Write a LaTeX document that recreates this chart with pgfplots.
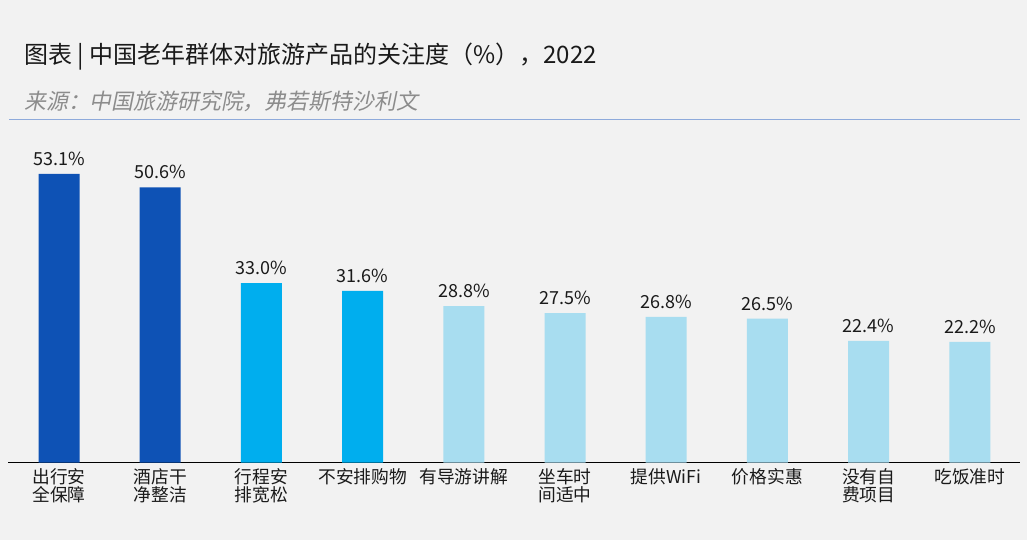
\documentclass[border=0pt]{standalone}
\usepackage{pgfplots}
\pgfplotsset{compat=1.18}
\usepackage{fontspec}
\setmainfont{Noto Sans CJK SC}
\newfontfamily\subfont[FakeSlant=0.2]{Noto Sans CJK SC}
\definecolor{bg}{HTML}{F2F2F2}
\definecolor{subgrey}{HTML}{8C8C8C}
\definecolor{linecol}{HTML}{8EAADB}
\definecolor{dblue}{HTML}{0E52B5}
\definecolor{cyanb}{HTML}{00AEEE}
\definecolor{lblue}{HTML}{A8DDF0}
\definecolor{txt}{HTML}{1A1A1A}
\begin{document}
\begin{tikzpicture}[x=0.75pt,y=0.75pt]
\useasboundingbox (0,0) rectangle (1027,540);
\fill[bg] (0,0) rectangle (1027,540);
\node[anchor=west,inner sep=0pt,text=txt,font=\fontsize{18}{21}\selectfont] at (24,483) {图表 | 中国老年群体对旅游产品的关注度（\%），2022};
\node[anchor=west,inner sep=0pt,text=subgrey,font=\subfont\fontsize{16.4}{19}\selectfont] at (24,439) {来源：中国旅游研究院，弗若斯特沙利文};
\draw[linecol,line width=1.2pt] (9,420.5) -- (1020,420.5);
\begin{axis}[
  at={(6.3pt,58pt)}, anchor=south west,
  scale only axis, width=759pt, height=244.8pt,
  xmin=-0.5, xmax=9.5, ymin=0, ymax=60,
  axis x line*=bottom, axis y line=none,
  x axis line style={line width=1.1pt, black},
  ybar, bar width=30.75pt, bar shift=0pt,
  clip=false,
  xtick={0,...,9},
  xticklabels={{出行安\\全保障},{酒店干\\净整洁},{行程安\\排宽松},{不安排购物},{有导游讲解},{坐车时\\间适中},{提供WiFi},{价格实惠},{没有自\\费项目},{吃饭准时}},
  xticklabel style={align=center, text=txt, font=\fontsize{13.3}{13.8}\selectfont, inner sep=0pt, yshift=-4pt},
  major tick length=0pt,
  ytick=\empty,
  /pgf/number format/assume math mode=true,
  nodes near coords={\pgfmathprintnumber[fixed,zerofill,precision=1]{\pgfplotspointmeta}\%},
  nodes near coords style={text=txt, font=\fontsize{13.5}{14}\selectfont, inner sep=0pt, anchor=south, yshift=6pt},
]
\addplot[fill=dblue, draw=none] coordinates {(0,53.1) (1,50.6)};
\addplot[fill=cyanb, draw=none] coordinates {(2,33.0) (3,31.6)};
\addplot[fill=lblue, draw=none] coordinates {(4,28.8) (5,27.5) (6,26.8) (7,26.5) (8,22.4) (9,22.2)};
\end{axis}
\end{tikzpicture}
\end{document}
